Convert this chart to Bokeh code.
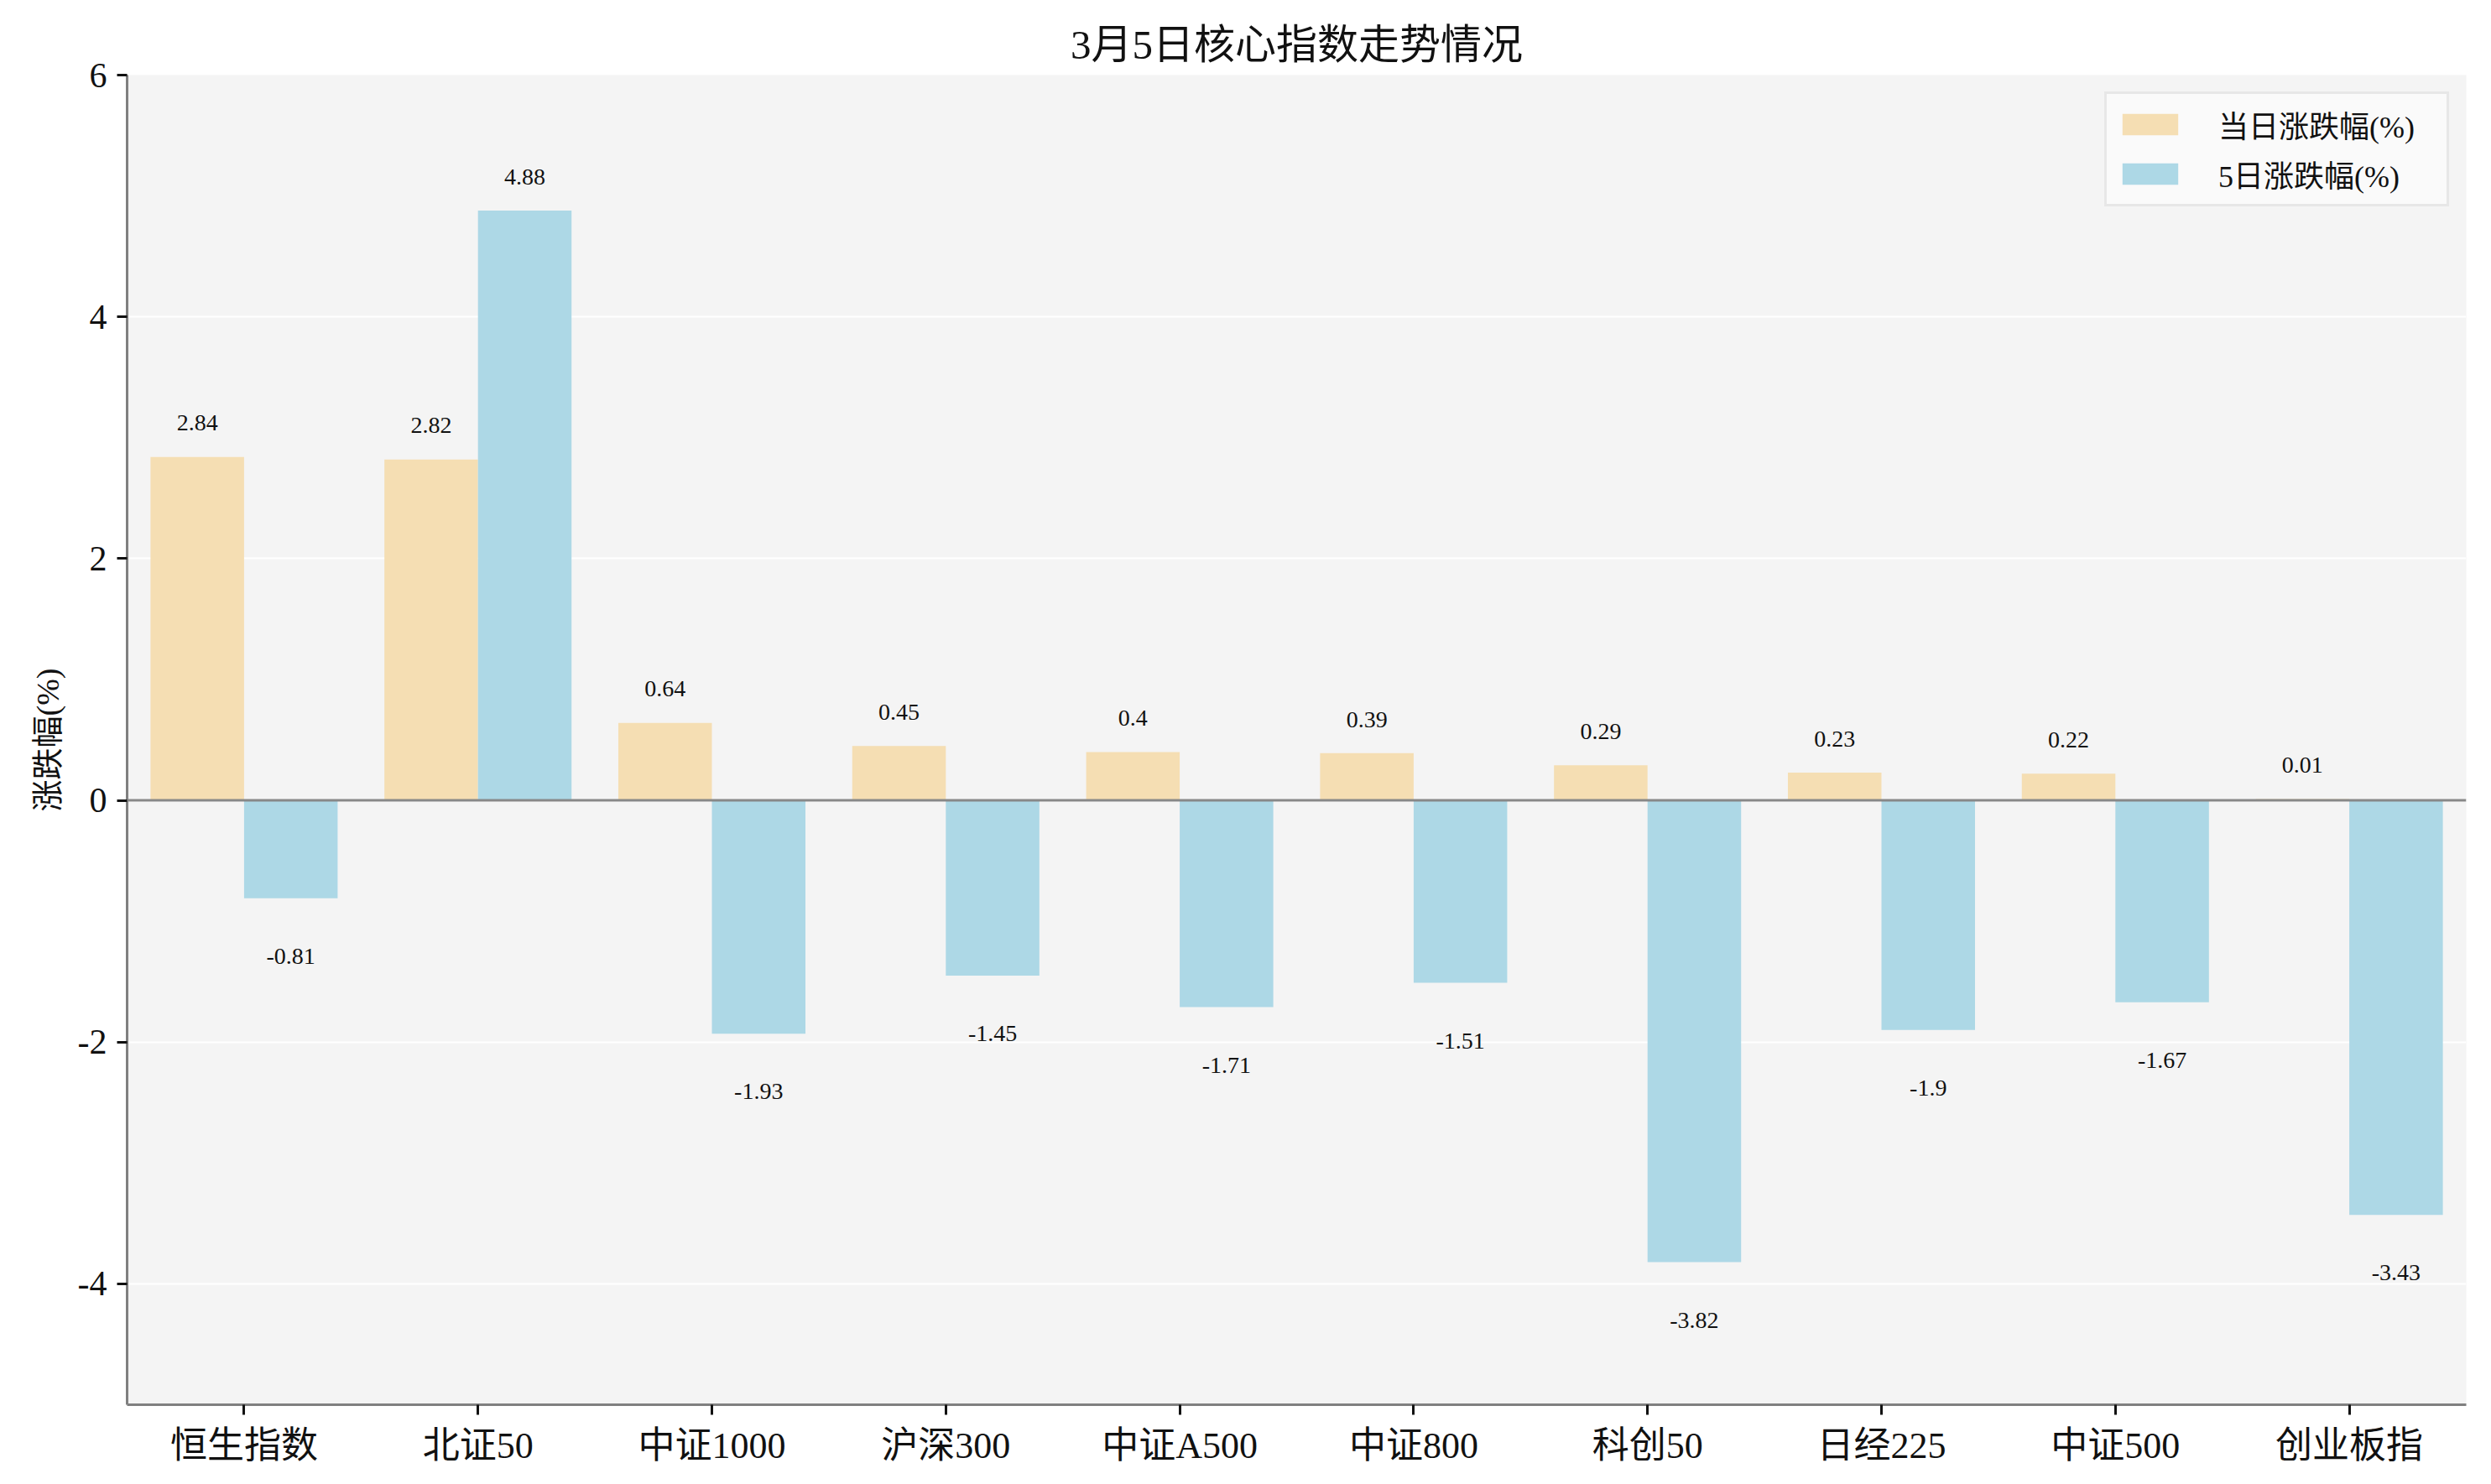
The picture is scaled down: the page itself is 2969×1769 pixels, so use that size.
from bokeh.plotting import figure
from bokeh.models import ColumnDataSource, FactorRange, Range1d, FixedTicker, Span, Legend, LegendItem
from bokeh.transform import dodge
from bokeh.core.properties import value
from bokeh.embed import file_html
from bokeh.resources import INLINE

title = "3月5日核心指数走势情况"
categories = ["恒生指数", "北证50", "中证1000", "沪深300", "中证A500", "中证800", "科创50", "日经225", "中证500", "创业板指"]
day_change = [2.84, 2.82, 0.64, 0.45, 0.4, 0.39, 0.29, 0.23, 0.22, 0.01]
five_day_change = [-0.81, 4.88, -1.93, -1.45, -1.71, -1.51, -3.82, -1.9, -1.67, -3.43]
series_names = ["当日涨跌幅(%)", "5日涨跌幅(%)"]
y_ticks = [-4, -2, 0, 2, 4, 6]
y_tick_labels = ["-4", "-2", "0", "2", "4", "6"]
y_label = "涨跌幅(%)"

FONT = "'Liberation Serif', 'Noto Sans CJK SC', serif"
C_DAY = "#F5DEB3"
C_FIVE = "#ADD8E6"


def label_pos(v):
    return v + 0.28 if v >= 0 else v - 0.48


def fmt(v):
    return f"{v:g}"


src = ColumnDataSource(dict(
    cat=categories,
    day=day_change,
    five=five_day_change,
    day_y=[label_pos(v) for v in day_change],
    five_y=[label_pos(v) for v in five_day_change],
    day_t=[fmt(v) for v in day_change],
    five_t=[fmt(v) for v in five_day_change],
))

p = figure(
    x_range=FactorRange(*categories, range_padding=0),
    y_range=Range1d(-5, 6),
    width=2953, height=1753,
    output_backend="svg", toolbar_location=None,
    min_border_left=151, min_border_right=14, min_border_top=89, min_border_bottom=79,
    background_fill_color="#F4F4F4", border_fill_color="white",
    outline_line_color=None,
)

p.title.text = title
p.title.align = "center"
p.title.text_font = FONT
p.title.text_font_size = "49px"
p.title.text_font_style = "normal"
p.title.text_color = "#111111"
p.title.standoff = 18

r1 = p.vbar(x=dodge("cat", -0.2, range=p.x_range), top="day", bottom=0, width=0.4,
            source=src, fill_color=C_DAY, line_color=None)
r2 = p.vbar(x=dodge("cat", 0.2, range=p.x_range), top="five", bottom=0, width=0.4,
            source=src, fill_color=C_FIVE, line_color=None)

p.text(x=dodge("cat", -0.2, range=p.x_range), y="day_y", text="day_t", source=src,
       text_font=value(FONT), text_font_size="28px", text_align="center",
       text_baseline="middle", text_color="#111111")
p.text(x=dodge("cat", 0.2, range=p.x_range), y="five_y", text="five_t", source=src,
       text_font=value(FONT), text_font_size="28px", text_align="center",
       text_baseline="middle", text_color="#111111")

p.add_layout(Span(location=0, dimension="width", line_color="#888888", line_width=3))

# grid
p.xgrid.grid_line_color = None
p.ygrid.grid_line_color = "white"
p.ygrid.grid_line_width = 2
p.ygrid.ticker = FixedTicker(ticks=y_ticks)

# axes
p.yaxis.ticker = FixedTicker(ticks=y_ticks)
p.yaxis.major_label_overrides = {t: s for t, s in zip(y_ticks, y_tick_labels)}
for ax in (p.xaxis[0], p.yaxis[0]):
    ax.axis_line_color = "#808080"
    ax.axis_line_width = 3
    ax.major_tick_line_color = "#111111"
    ax.major_tick_line_width = 3
    ax.major_tick_out = 12
    ax.major_tick_in = 0
    ax.minor_tick_line_color = None
    ax.major_label_text_font = FONT
    ax.major_label_text_color = "#111111"
p.xaxis.major_label_text_font_size = "44px"
p.yaxis.major_label_text_font_size = "42px"
p.xaxis.major_label_standoff = 12
p.yaxis.major_label_standoff = 12
p.yaxis.axis_label = y_label
p.yaxis.axis_label_text_font = FONT
p.yaxis.axis_label_text_font_size = "38px"
p.yaxis.axis_label_text_font_style = "normal"
p.yaxis.axis_label_text_color = "#111111"
p.yaxis.axis_label_standoff = 12

legend = Legend(
    items=[LegendItem(label=series_names[0], renderers=[r1]),
           LegendItem(label=series_names[1], renderers=[r2])],
    location="top_right",
    label_text_font=FONT, label_text_font_size="36px", label_text_color="#111111",
    glyph_width=83, glyph_height=32, label_height=36, label_width=262, spacing=7,
    label_standoff=40, padding=10, margin=20,
    background_fill_color="#FAFAFA", background_fill_alpha=1.0,
    border_line_color="#D4D4D4", border_line_width=3,
)
p.add_layout(legend)

open("out.html", "w").write(file_html(p, INLINE))
